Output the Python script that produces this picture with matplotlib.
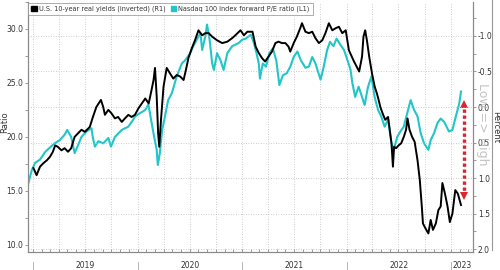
import matplotlib
matplotlib.use('Agg')

import matplotlib.pyplot as plt
import matplotlib.dates as mdates
import matplotlib.ticker as mticker
from matplotlib.patches import Patch
from matplotlib.lines import Line2D
import pandas as pd

plt.rcParams['font.family'] = ['Liberation Sans Narrow', 'DejaVu Sans']

# Nasdaq 100 forward P/E (left axis)
pe_dates = [
    '2018-12-15', '2018-12-27', '2019-01-08', '2019-01-25', '2019-02-12', '2019-02-28',
    '2019-03-17', '2019-04-04', '2019-04-21', '2019-04-30', '2019-05-14', '2019-05-26',
    '2019-06-05', '2019-06-19', '2019-07-06', '2019-07-24', '2019-07-29', '2019-08-05',
    '2019-08-17', '2019-09-03', '2019-09-21', '2019-09-30', '2019-10-14', '2019-11-07',
    '2019-11-30', '2019-12-17', '2019-12-23', '2020-01-28', '2020-02-08', '2020-02-26',
    '2020-03-08', '2020-03-12', '2020-03-19', '2020-03-27', '2020-04-06', '2020-04-17',
    '2020-04-30', '2020-05-17', '2020-06-04', '2020-06-16', '2020-07-03', '2020-07-14',
    '2020-07-26', '2020-08-08', '2020-08-14', '2020-08-25', '2020-08-31', '2020-09-09',
    '2020-09-18', '2020-09-24', '2020-10-05', '2020-10-17', '2020-10-28', '2020-11-10',
    '2020-11-27', '2020-12-20', '2021-01-01', '2021-01-13', '2021-01-31', '2021-02-11',
    '2021-02-20', '2021-02-28', '2021-03-04', '2021-03-14', '2021-03-25', '2021-04-06',
    '2021-04-18', '2021-04-30', '2021-05-11', '2021-05-23', '2021-06-06', '2021-06-18',
    '2021-06-30', '2021-07-13', '2021-07-25', '2021-08-10', '2021-08-22', '2021-09-03',
    '2021-09-14', '2021-10-02', '2021-10-13', '2021-10-25', '2021-11-04', '2021-11-16',
    '2021-11-27', '2021-12-11', '2021-12-23', '2022-01-04', '2022-01-15', '2022-01-21',
    '2022-01-31', '2022-02-12', '2022-02-24', '2022-03-05', '2022-03-17', '2022-03-29',
    '2022-04-09', '2022-04-21', '2022-05-02', '2022-05-14', '2022-05-26', '2022-06-07',
    '2022-06-15', '2022-06-27', '2022-07-08', '2022-07-20', '2022-08-01', '2022-08-13',
    '2022-08-25', '2022-09-06', '2022-09-17', '2022-09-29', '2022-10-14', '2022-10-22',
    '2022-11-03', '2022-11-15', '2022-11-26', '2022-12-08', '2022-12-25', '2023-01-06',
    '2023-01-18', '2023-01-30', '2023-02-05',
]
pe_values = [
    15.7, 16.9, 17.6, 17.9, 18.6, 19.0,
    19.4, 19.7, 20.2, 20.65, 20.0, 18.5,
    19.1, 20.0, 20.5, 20.8, 19.9, 19.1,
    19.6, 19.4, 19.9, 19.1, 20.0, 20.65,
    20.95, 21.6, 21.9, 22.5, 23.0, 20.3,
    18.8, 17.4, 18.5, 20.65, 21.9, 23.4,
    24.05, 25.6, 26.8, 27.1, 27.75, 28.4,
    29.0, 29.6, 28.05, 29.3, 30.4, 29.0,
    26.8, 26.2, 27.75, 27.1, 26.2, 27.75,
    28.4, 28.7, 29.0, 29.1, 29.45, 28.7,
    27.75, 26.8, 25.4, 26.8, 26.5, 27.75,
    28.2, 27.1, 24.8, 25.7, 25.9, 26.5,
    27.4, 27.9, 27.1, 26.4, 26.5, 27.4,
    26.8, 25.3, 26.5, 28.05, 28.8, 28.4,
    29.1, 28.5, 28.05, 27.1, 26.2, 25.0,
    23.7, 24.65, 23.7, 22.95, 24.65, 25.6,
    23.7, 22.5, 21.9, 20.95, 21.6, 19.4,
    18.8, 20.0, 20.5, 20.95, 22.2, 23.4,
    22.5, 21.9, 20.35, 19.4, 18.8, 19.7,
    20.35, 21.3, 21.7, 21.4, 20.5, 20.65,
    21.9, 23.1, 24.2,
]

# U.S. 10-year real yields, % (right axis, inverted)
ry_dates = [
    '2019-01-02', '2019-01-13', '2019-01-25', '2019-02-06', '2019-02-18', '2019-03-01',
    '2019-03-11', '2019-03-19', '2019-03-28', '2019-04-10', '2019-04-21', '2019-05-03',
    '2019-05-14', '2019-05-26', '2019-06-07', '2019-06-19', '2019-07-01', '2019-07-18',
    '2019-07-29', '2019-08-10', '2019-08-26', '2019-09-03', '2019-09-09', '2019-09-21',
    '2019-10-02', '2019-10-14', '2019-10-25', '2019-11-07', '2019-11-18', '2019-11-30',
    '2019-12-11', '2019-12-23', '2020-01-04', '2020-01-16', '2020-01-28', '2020-02-09',
    '2020-02-18', '2020-02-26', '2020-03-02', '2020-03-08', '2020-03-13', '2020-03-17',
    '2020-03-23', '2020-04-01', '2020-04-12', '2020-04-24', '2020-05-05', '2020-05-17',
    '2020-05-29', '2020-06-10', '2020-06-18', '2020-06-27', '2020-07-09', '2020-07-20',
    '2020-08-01', '2020-08-14', '2020-08-25', '2020-09-06', '2020-09-18', '2020-10-05',
    '2020-10-23', '2020-11-10', '2020-11-27', '2020-12-08', '2020-12-26', '2021-01-07',
    '2021-01-19', '2021-02-06', '2021-02-17', '2021-02-28', '2021-03-11', '2021-03-22',
    '2021-04-03', '2021-04-15', '2021-04-27', '2021-05-08', '2021-05-20', '2021-06-01',
    '2021-06-12', '2021-06-18', '2021-06-30', '2021-07-11', '2021-07-23', '2021-07-29',
    '2021-08-10', '2021-08-22', '2021-09-03', '2021-09-14', '2021-09-26', '2021-10-08',
    '2021-10-19', '2021-10-31', '2021-11-12', '2021-11-24', '2021-12-05', '2021-12-17',
    '2021-12-29', '2022-01-09', '2022-01-19', '2022-01-27', '2022-02-05', '2022-02-14',
    '2022-02-24', '2022-03-01', '2022-03-07', '2022-03-13', '2022-03-21', '2022-03-31',
    '2022-04-09', '2022-04-17', '2022-04-23', '2022-04-29', '2022-05-07', '2022-05-16',
    '2022-05-26', '2022-06-01', '2022-06-07', '2022-06-12', '2022-06-16', '2022-06-23',
    '2022-07-02', '2022-07-11', '2022-07-20', '2022-07-28', '2022-08-02', '2022-08-09',
    '2022-08-18', '2022-08-27', '2022-09-06', '2022-09-14', '2022-09-21', '2022-09-25',
    '2022-10-04', '2022-10-14', '2022-10-22', '2022-10-30', '2022-11-09', '2022-11-18',
    '2022-11-26', '2022-12-02', '2022-12-11', '2022-12-20', '2022-12-28', '2023-01-06',
    '2023-01-16', '2023-01-25', '2023-02-05',
]
ry_values = [
    0.86, 0.96, 0.84, 0.79, 0.75, 0.70,
    0.63, 0.54, 0.56, 0.61, 0.58, 0.63,
    0.58, 0.42, 0.37, 0.32, 0.35, 0.28,
    0.14, 0.00, -0.10, 0.00, 0.11, 0.04,
    0.09, 0.16, 0.14, 0.21, 0.16, 0.11,
    0.14, 0.11, 0.02, -0.05, -0.12, -0.05,
    -0.22, -0.38, -0.55, -0.15, 0.37, 0.56,
    0.18, -0.29, -0.55, -0.47, -0.40, -0.45,
    -0.43, -0.38, -0.52, -0.69, -0.83, -0.94,
    -1.08, -1.01, -1.04, -1.04, -0.99, -0.94,
    -0.90, -0.92, -0.97, -1.01, -1.08, -1.01,
    -1.06, -1.06, -0.85, -0.76, -0.69, -0.64,
    -0.71, -0.78, -0.90, -0.92, -0.90, -0.90,
    -0.85, -0.78, -0.90, -0.99, -1.11, -1.18,
    -1.06, -1.04, -1.06, -0.97, -0.90, -0.94,
    -1.04, -1.18, -1.08, -1.11, -1.13, -1.04,
    -1.08, -0.80, -0.71, -0.64, -0.57, -0.50,
    -0.71, -0.99, -1.08, -0.94, -0.71, -0.47,
    -0.29, -0.19, -0.10, 0.00, 0.09, 0.18,
    0.14, 0.32, 0.51, 0.84, 0.56, 0.58,
    0.54, 0.51, 0.42, 0.32, 0.16, 0.32,
    0.42, 0.49, 0.75, 1.03, 1.40, 1.64,
    1.71, 1.78, 1.59, 1.73, 1.64, 1.45,
    1.40, 1.07, 1.22, 1.40, 1.62, 1.50,
    1.17, 1.22, 1.38,
]

years = [2019, 2020, 2021, 2022, 2023]
x_start, x_end = '2018-12-14', '2023-03-19'

# red "gap" arrow, in P/E units
gap_date = '2023-02-15'
gap_top, gap_bottom = 23.0, 14.5

black = '#000000'
cyan = '#22c5c8'
gray = '#8a8a8a'
txt = '#333333'

fig = plt.figure(figsize=(5, 2.7), dpi=100)
ax = fig.add_axes([0.056, 0.067, 0.89, 0.926])
ax2 = ax.twinx()

ax.plot(pd.to_datetime(pe_dates), pe_values, color=cyan, lw=1.5, zorder=3)
ax2.plot(pd.to_datetime(ry_dates), ry_values, color=black, lw=1.4, zorder=4)

ax.set_ylim(9.35, 32.5)
ax2.set_ylim(2.04, -1.48)
ax.set_xlim(pd.Timestamp(x_start), pd.Timestamp(x_end))

ax.yaxis.set_major_locator(mticker.MultipleLocator(5))
ax.yaxis.set_minor_locator(mticker.MultipleLocator(2.5))
ax.yaxis.set_major_formatter(mticker.FormatStrFormatter('%.1f'))
ax2.yaxis.set_major_locator(mticker.MultipleLocator(0.5))
ax2.yaxis.set_minor_locator(mticker.MultipleLocator(0.25))
ax2.yaxis.set_major_formatter(mticker.FuncFormatter(lambda v, p: f'{v:.1f}'))

ax.xaxis.set_major_locator(mdates.MonthLocator(bymonth=[1, 4, 7, 10]))
ax.xaxis.set_minor_locator(mdates.MonthLocator())
ax.xaxis.set_major_formatter(mticker.NullFormatter())
ax.tick_params(axis='x', which='both', direction='in', length=2, color=gray, width=0.6)
ax.tick_params(axis='y', which='both', direction='out', length=2.5, color=gray, width=0.6,
               labelsize=5.5, labelcolor=txt, pad=1)
ax2.tick_params(axis='y', which='both', direction='out', length=2.5, color=gray, width=0.6,
                labelsize=5.5, labelcolor=txt, pad=1)

ax.grid(axis='x', which='major', color='#bbbbbb', ls=(0, (1, 2)), lw=0.6)
ax2.grid(axis='y', which='major', color='#bbbbbb', ls=(0, (1, 2)), lw=0.6)

for a in (ax, ax2):
    a.spines['top'].set_visible(False)
    for s in ('left', 'right', 'bottom'):
        a.spines[s].set_color(gray)
        a.spines[s].set_linewidth(0.8)

ax.set_ylabel('Ratio', fontsize=6, color=txt)
ax.yaxis.set_label_coords(-0.043, 0.52)
ax2.set_ylabel('Percent', fontsize=6, color=txt, rotation=270, labelpad=5)

# year band under the axis
for y in years:
    x0 = mdates.date2num(pd.Timestamp(f'{y}-01-01'))
    x1 = min(mdates.date2num(pd.Timestamp(f'{y + 1}-01-01')), mdates.date2num(pd.Timestamp(x_end)))
    ax.plot([x0, x0], [-0.04, -0.075], transform=ax.get_xaxis_transform(), color='#aaaaaa',
            lw=0.6, clip_on=False)
    ax.text((x0 + x1) / 2, -0.056, str(y), transform=ax.get_xaxis_transform(), ha='center',
            va='center', fontsize=5.5, color=txt)

# red dotted arrow
gd = pd.Timestamp(gap_date)
red = '#dd2530'
ax.plot([gd, gd], [gap_top - 0.4, gap_bottom + 0.4], color=red, lw=2.4, ls=(0, (1, 0.8)), zorder=6)
ax.plot([gd], [gap_top], marker='^', color=red, ms=6, mew=0, zorder=6)
ax.plot([gd], [gap_bottom], marker='v', color=red, ms=6, mew=0, zorder=6)

fig.text(0.966, 0.54, 'Low => High', rotation=270, ha='center', va='center', fontsize=9,
         color='#b4b4b4', alpha=0.8, zorder=20)

handles = [Patch(facecolor=black, edgecolor=black),
           Patch(facecolor=cyan, edgecolor=cyan)]
labels = ['U.S. 10-year real yields (inverted) (R1)', 'Nasdaq 100 Index forward P/E ratio (L1)']
leg = ax2.legend(handles, labels, loc='upper left', bbox_to_anchor=(0.0, 0.997), borderaxespad=0,
                 fontsize=4.7, frameon=True, fancybox=False, edgecolor=gray, ncol=2,
                 handlelength=0.9, handleheight=0.9, handletextpad=0.3, columnspacing=0.8,
                 borderpad=0.45, labelcolor=txt)
leg.get_frame().set_linewidth(0.6)

fig.add_artist(Line2D([0.984, 0.984], [0.074, 1.0], color='#999999', lw=0.8))

fig.savefig('out.png', dpi=100)
